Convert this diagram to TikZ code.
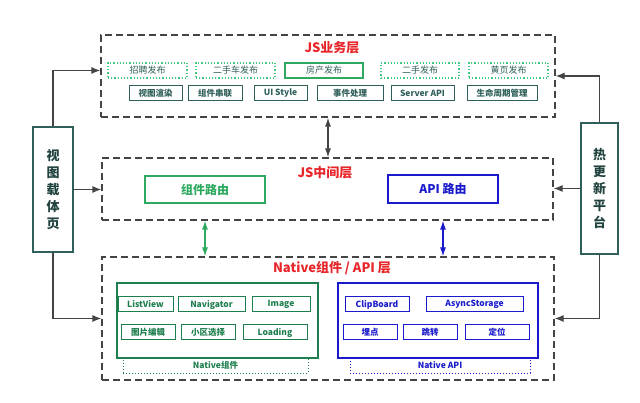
\documentclass[tikz,border=0pt]{standalone}
\usepackage{fontspec}
\setmainfont{Noto Sans CJK SC}
\usetikzlibrary{arrows.meta}

\definecolor{layerred}{HTML}{E8262A}
\definecolor{darkteal}{HTML}{2F5F5A}
\definecolor{lightgreen}{HTML}{3CCB7F}
\definecolor{midgreen}{HTML}{2EAA60}
\definecolor{nativegreen}{HTML}{1E7F4E}
\definecolor{nativeblue}{HTML}{1A1ACC}
\definecolor{linegray}{HTML}{444444}

\tikzset{
  layer/.style={draw=linegray,line width=1.2pt,dash pattern=on 7pt off 4pt},
  layertitle/.style={text=layerred,font=\fontsize{13}{14}\selectfont\bfseries},
  bizbox/.style={draw=lightgreen,line width=1.2pt,dotted,text=darkteal,
    minimum height=15pt,inner sep=0pt,font=\fontsize{9}{9}\selectfont},
  basebox/.style={draw=darkteal,line width=1pt,text=darkteal,
    minimum height=15pt,inner sep=0pt,font=\fontsize{8.5}{9}\selectfont\bfseries},
  greenbox/.style={draw=nativegreen,line width=1pt,text=nativegreen,
    minimum height=15pt,inner sep=0pt,font=\fontsize{8.5}{9}\selectfont\bfseries},
  bluebox/.style={draw=nativeblue,line width=1pt,text=nativeblue,
    minimum height=15pt,inner sep=0pt,font=\fontsize{8.5}{9}\selectfont\bfseries},
  sidebox/.style={draw=darkteal,line width=1.2pt,text=darkteal!70!black,inner sep=0pt,
    align=center,font=\fontsize{13}{17}\selectfont\bfseries},
  link/.style={-{Latex[length=9pt,width=7pt]},draw=linegray,line width=1.2pt},
  dlink/.style={{Latex[length=9pt,width=6pt]}-{Latex[length=9pt,width=6pt]},line width=1.2pt}
}

\begin{document}
\begin{tikzpicture}[x=1pt,y=-1pt]
    \useasboundingbox (0,0) rectangle (640,403);
    % Define nodes
    \node[layer,minimum width=454pt,minimum height=82pt] (bizlayer) at (328,76) {};
    \node[layer,minimum width=451pt,minimum height=62pt] (midlayer) at (327.5,189) {};
    \node[layer,minimum width=452pt,minimum height=123pt] (nativelayer) at (328,318.5) {};
    \node[layertitle] (biztitle) at (332,48) {JS业务层};
    \node[layertitle] (midtitle) at (325,173) {JS中间层};
    \node[layertitle] (nativetitle) at (332,268) {Native组件 / API 层};

    \node[bizbox,minimum width=79pt] (zhaopin) at (147.5,70.5) {招聘发布};
    \node[bizbox,minimum width=79pt] (ershouche) at (235.5,70.5) {二手车发布};
    \node[bizbox,solid,draw=midgreen,minimum width=78pt] (fangchan) at (324,70.5) {房产发布};
    \node[bizbox,minimum width=78pt] (ershou) at (420,70.5) {二手发布};
    \node[bizbox,minimum width=79pt] (huangye) at (508.5,70.5) {黄页发布};

    \node[basebox,minimum width=53pt] (render) at (155.5,93.5) {视图渲染};
    \node[basebox,minimum width=54pt] (chain) at (215,93.5) {组件串联};
    \node[basebox,minimum width=53pt] (uistyle) at (280.5,93.5) {UI Style};
    \node[basebox,minimum width=66pt] (event) at (350,93.5) {事件处理};
    \node[basebox,minimum width=63pt] (server) at (422.5,93.5) {Server API};
    \node[basebox,minimum width=70pt] (life) at (502,93.5) {生命周期管理};

    \node[draw=midgreen,line width=1.2pt,text=midgreen,minimum width=120pt,minimum height=27pt,
      font=\fontsize{12}{13}\selectfont\bfseries] (comproute) at (205,189.5) {组件路由};
    \node[draw=nativeblue,line width=1.2pt,text=nativeblue,minimum width=110pt,minimum height=28pt,
      font=\fontsize{12}{13}\selectfont\bfseries] (apiroute) at (443,189) {API 路由};

    \node[draw=nativegreen,line width=1.2pt,minimum width=201pt,minimum height=75pt] (greenpanel) at (217.5,320.5) {};
    \node[draw=nativegreen,line width=1pt,dotted,text=nativegreen,minimum width=185pt,minimum height=15pt,
      inner sep=0pt,font=\fontsize{8.5}{9}\selectfont\bfseries] (greenlabel) at (215.5,365.5) {Native组件};
    \node[greenbox,minimum width=55pt] (listview) at (145.5,304.5) {ListView};
    \node[greenbox,minimum width=67pt] (navigator) at (211.5,304.5) {Navigator};
    \node[greenbox,minimum width=58pt] (image) at (281,304.5) {Image};
    \node[greenbox,minimum width=54pt] (picedit) at (148,332.5) {图片编辑};
    \node[greenbox,minimum width=54pt] (xiaoqu) at (208,332.5) {小区选择};
    \node[greenbox,minimum width=64pt] (loading) at (275,332.5) {Loading};

    \node[draw=nativeblue,line width=1.2pt,minimum width=200pt,minimum height=75pt] (bluepanel) at (438,320.5) {};
    \node[draw=nativeblue,line width=1pt,dotted,text=nativeblue,minimum width=180pt,minimum height=15pt,
      inner sep=0pt,font=\fontsize{8.5}{9}\selectfont\bfseries] (bluelabel) at (440,365.5) {Native API};
    \node[bluebox,minimum width=64pt] (clipboard) at (377,304.5) {ClipBoard};
    \node[bluebox,minimum width=97pt] (storage) at (474.5,304.5) {AsyncStorage};
    \node[bluebox,minimum width=54pt] (maidian) at (370,332.5) {埋点};
    \node[bluebox,minimum width=54pt] (tiaozhuan) at (430,332.5) {跳转};
    \node[bluebox,minimum width=64pt] (dingwei) at (497,332.5) {定位};

    \node[sidebox,minimum width=40pt,minimum height=125pt] (view) at (53,189.5) {视\\图\\载\\体\\页};
    \node[sidebox,minimum width=37pt,minimum height=131pt] (hot) at (599.5,188.5) {热\\更\\新\\平\\台};
    % Draw edges
    \draw[link] (view.north) |- (bizlayer.west |- zhaopin);
    \draw[link] (view.east) -- (midlayer.west |- view);
    \draw[link] (view.south) |- (nativelayer.west);
    \draw[link] (hot.north) |- (bizlayer.east);
    \draw[link] (hot.west) -- (midlayer.east |- hot);
    \draw[link] (hot.south) |- (nativelayer.east);
    \draw[dlink,draw=linegray,fill=linegray] (bizlayer.south) -- (bizlayer.south |- midlayer.north);
    \draw[dlink,draw=midgreen,fill=midgreen] (comproute |- midlayer.south) -- (comproute |- nativelayer.north);
    \draw[dlink,draw=nativeblue,fill=nativeblue] (apiroute |- midlayer.south) -- (apiroute |- nativelayer.north);

\end{tikzpicture}
\end{document}
